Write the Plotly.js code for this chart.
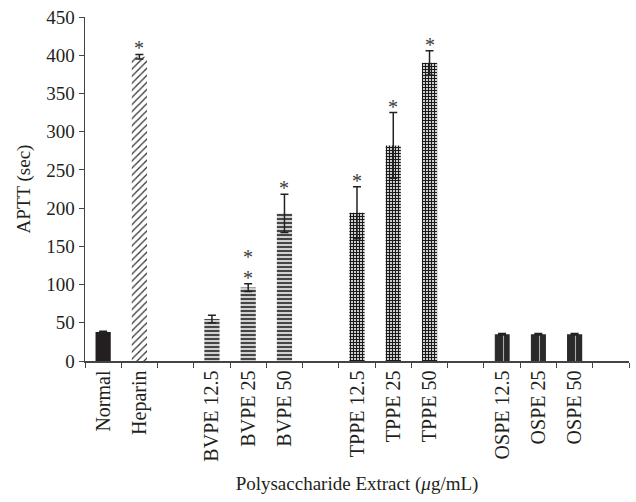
<!DOCTYPE html>
<html>
<head>
<meta charset="utf-8">
<script src="https://cdn.plot.ly/plotly-3.0.1.min.js"></script>
<style>html,body{margin:0;padding:0;background:#fff;}#chart{width:636px;height:502px;}</style>
</head>
<body>
<div id="chart"></div>
<script>
// Category order (blank slots separate the groups)
const categories = ["Normal", "Heparin", " ", "BVPE 12.5", "BVPE 25", "BVPE 50", "  ",
  "TPPE 12.5", "TPPE 25", "TPPE 50", "   ", "OSPE 12.5", "OSPE 25", "OSPE 50", "    "];

const normalX = ["Normal"];
const normalY = [38];
const normalErr = [1];

const heparinX = ["Heparin"];
const heparinY = [398];
const heparinErr = [3];

const bvpeX = ["BVPE 12.5", "BVPE 25", "BVPE 50"];
const bvpeY = [55, 96, 193];
const bvpeErr = [5, 5, 25];

const tppeX = ["TPPE 12.5", "TPPE 25", "TPPE 50"];
const tppeY = [194, 282, 390];
const tppeErr = [34, 43, 16];

const ospeX = ["OSPE 12.5", "OSPE 25", "OSPE 50"];
const ospeY = [35, 35, 35];
const ospeErr = [1, 1, 1];

// significance markers: category and number of asterisks
const sigX = ["Heparin", "BVPE 25", "BVPE 50", "TPPE 12.5", "TPPE 25", "TPPE 50"];
const sigCount = [1, 2, 1, 1, 1, 1];

const FONT = "Liberation Serif, Times New Roman, serif";
const errStyle = (arr) => ({type: "data", array: arr, visible: true, color: "#222", thickness: 1.5, width: 4});
const W = 0.42;

const traces = [
  {type: "bar", x: normalX, y: normalY, width: W, error_y: errStyle(normalErr),
   marker: {color: "#231f20", line: {width: 0}}},
  {type: "bar", x: heparinX, y: heparinY, width: W, error_y: errStyle(heparinErr),
   marker: {color: "#ffffff", line: {width: 0},
     pattern: {shape: "/", fgcolor: "#333", bgcolor: "#ffffff", size: 5, solidity: 0.25}}},
  {type: "bar", x: bvpeX, y: bvpeY, width: W, error_y: errStyle(bvpeErr),
   marker: {color: "#bbbbbb", line: {width: 0},
     pattern: {shape: "-", fgcolor: "#222", bgcolor: "#d0d0d0", size: 4, solidity: 0.4}}},
  {type: "bar", x: tppeX, y: tppeY, width: W, error_y: errStyle(tppeErr),
   marker: {color: "#333", line: {width: 0},
     pattern: {shape: "+", fgcolor: "#1a1a1a", bgcolor: "#d8d8d8", size: 3, solidity: 0.6}}},
  {type: "bar", x: ospeX, y: ospeY, width: W, error_y: errStyle(ospeErr),
   marker: {color: "#2a2a2a", line: {width: 0},
     pattern: {shape: "|", fgcolor: "#aaaaaa", bgcolor: "#2a2a2a", size: 9, solidity: 0.12}}}
];

// top of error bar per category for asterisk placement
const allX = [].concat(normalX, heparinX, bvpeX, tppeX, ospeX);
const allTop = [].concat(
  normalY.map((v, i) => v + normalErr[i]),
  heparinY.map((v, i) => v + heparinErr[i]),
  bvpeY.map((v, i) => v + bvpeErr[i]),
  tppeY.map((v, i) => v + tppeErr[i]),
  ospeY.map((v, i) => v + ospeErr[i]));

const annotations = [];
sigX.forEach((c, i) => {
  const top = allTop[allX.indexOf(c)];
  for (let k = 0; k < sigCount[i]; k++) {
    annotations.push({x: c, y: top, xref: "x", yref: "y", text: "*", showarrow: false,
      yanchor: "middle", yshift: 6 + k * 21,
      font: {family: FONT, size: 20, color: "#3a3a3a"}});
  }
});

const layout = {
  width: 636, height: 502,
  margin: {l: 85, r: 7, t: 17, b: 141},
  paper_bgcolor: "#fff", plot_bgcolor: "#fff",
  showlegend: false,
  barmode: "overlay",
  font: {family: FONT, size: 19, color: "#231f20"},
  xaxis: {
    type: "category", categoryorder: "array", categoryarray: categories,
    range: [-0.5, 14.5],
    tickangle: -90, ticks: "outside", tickson: "boundaries", ticklen: 5, tickcolor: "#444",
    showline: true, linecolor: "#444", linewidth: 1.5, showgrid: false, zeroline: false,
    tickfont: {size: 20},
    title: {text: "Polysaccharide Extract (<i>μ</i>g/mL)", font: {size: 19}, standoff: 16}
  },
  yaxis: {
    range: [0, 450], dtick: 50, ticks: "outside", ticklen: 5, tickcolor: "#444",
    showline: true, linecolor: "#444", linewidth: 1.5, showgrid: false, zeroline: false,
    tickfont: {size: 19},
    title: {text: "APTT (sec)", font: {size: 19}, standoff: 10}
  },
  annotations: annotations
};

Plotly.newPlot("chart", traces, layout, {displayModeBar: false, staticPlot: true});
</script>
</body>
</html>
